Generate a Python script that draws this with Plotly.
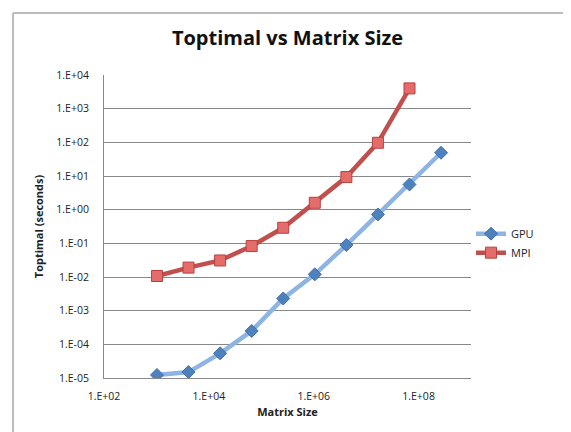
import plotly.graph_objects as go

matrix_size = [1024, 4096, 16384, 65536, 262144, 1048576, 4194304, 16777216, 67108864, 268435456]
gpu_time = [1.23e-5, 1.5e-5, 5.4e-5, 2.5e-4, 2.3e-3, 0.012, 0.089, 0.72, 5.6, 49]
mpi_time = [0.0107, 0.019, 0.031, 0.083, 0.29, 1.6, 9.3, 97, 4000]

y_tickvals = [1e-5, 1e-4, 1e-3, 1e-2, 1e-1, 1e0, 1e1, 1e2, 1e3, 1e4]
y_ticktext = ["1.E-05", "1.E-04", "1.E-03", "1.E-02", "1.E-01", "1.E+00", "1.E+01", "1.E+02", "1.E+03", "1.E+04"]
x_tickvals = [1e2, 1e4, 1e6, 1e8]
x_ticktext = ["1.E+02", "1.E+04", "1.E+06", "1.E+08"]

font_family = "Open Sans, Liberation Sans, sans-serif"

fig = go.Figure()
fig.add_trace(go.Scatter(
    x=matrix_size, y=gpu_time, name="GPU", mode="lines+markers",
    line=dict(color="#8DB4E2", width=4.5),
    marker=dict(symbol="diamond", size=10, color="#4F81BD", line=dict(color="#3F6FAA", width=1)),
))
fig.add_trace(go.Scatter(
    x=matrix_size[:len(mpi_time)], y=mpi_time, name="MPI", mode="lines+markers",
    line=dict(color="#C0504D", width=4.5),
    marker=dict(symbol="square", size=11, color="#E46C6A", line=dict(color="#B8413E", width=1)),
))

fig.update_layout(
    width=571, height=432,
    margin=dict(l=96, r=108, t=67, b=62),
    paper_bgcolor="white", plot_bgcolor="white",
    title=dict(text="<b>Toptimal vs Matrix Size</b>", x=0.5, xanchor="center",
               xref="paper", y=0.93, yanchor="middle",
               font=dict(family=font_family, size=20, color="#111111")),
    font=dict(family=font_family, size=10, color="#222222"),
    showlegend=True,
    legend=dict(x=1.0, y=0.445, xanchor="left", yanchor="middle",
                font=dict(size=11, color="#222222"), tracegroupgap=10,
                itemwidth=30, bgcolor="rgba(0,0,0,0)"),
    xaxis=dict(type="log", range=[2, 9], tickvals=x_tickvals, ticktext=x_ticktext,
               showgrid=False, zeroline=False, showline=True, linecolor="#888888",
               linewidth=1, ticks="", tickfont=dict(size=10.5), ticklabelstandoff=8,
               title=dict(text="<b>Matrix Size</b>", font=dict(size=11), standoff=6)),
    yaxis=dict(type="log", range=[-5, 4], tickvals=y_tickvals, ticktext=y_ticktext,
               showgrid=True, gridcolor="#888888", gridwidth=1, zeroline=False,
               showline=True, linecolor="#888888", linewidth=1, ticks="",
               tickfont=dict(size=10.5), ticklabelstandoff=12,
               title=dict(text="<b>Toptimal (seconds)</b>", font=dict(size=11), standoff=10)),
    shapes=[
        dict(type="line", xref="paper", yref="paper", x0=-0.248, x1=-0.248, y0=-0.3, y1=1.205,
             line=dict(color="#BBBBBB", width=2)),
        dict(type="line", xref="paper", yref="paper", x0=-0.248, x1=1.4, y0=1.205, y1=1.205,
             line=dict(color="#BBBBBB", width=2)),
    ],
)

fig.write_html("out.html")
